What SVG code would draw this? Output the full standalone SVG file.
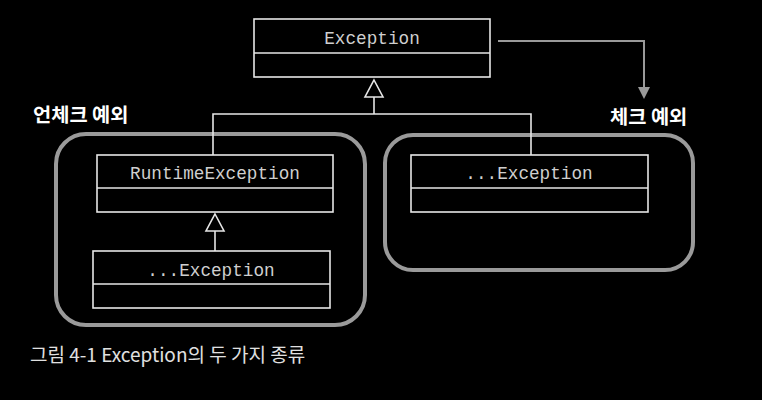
<svg xmlns="http://www.w3.org/2000/svg" width="762" height="400" viewBox="0 0 762 400">
<defs>
<style>
.box{fill:none;stroke:#e6e6e6;stroke-width:1.6}
.grp{fill:none;stroke:#9a9a9a;stroke-width:4}
.cls{font-family:"Liberation Mono","Courier New",monospace;font-size:17.7px;fill:#cfcfcf;text-anchor:middle}
.lbl{font-family:"Noto Sans CJK KR",sans-serif;font-size:19.8px;font-weight:bold;fill:#ffffff}
.cap{font-family:"Noto Sans CJK KR",sans-serif;font-size:19px;fill:#e0e0e0}
.ln{fill:none;stroke:#e6e6e6;stroke-width:1.6}
.tri{fill:#000;stroke:#e6e6e6;stroke-width:1.6}
</style>
</defs>
<rect width="762" height="400" fill="#000"/>
<g id="group-unchecked">
<rect class="grp" x="56" y="134" width="309" height="191" rx="30"/>
<text class="lbl" x="33" y="122">언체크 예외</text>
</g>
<g id="group-checked">
<rect class="grp" x="385" y="135" width="308" height="135" rx="28"/>
<text class="lbl" x="610" y="124">체크 예외</text>
</g>
<g id="exception">
<rect class="box" x="254" y="19" width="236" height="58"/>
<line class="box" x1="254" y1="53" x2="490" y2="53"/>
<text class="cls" x="372" y="44">Exception</text>
</g>
<g id="runtime-exception">
<rect class="box" x="97" y="155" width="236" height="57"/>
<line class="box" x1="97" y1="188" x2="333" y2="188"/>
<text class="cls" x="215" y="179">RuntimeException</text>
</g>
<g id="unchecked-sub">
<rect class="box" x="93" y="251" width="237" height="57"/>
<line class="box" x1="93" y1="284" x2="330" y2="284"/>
<text class="cls" x="211" y="276">...Exception</text>
</g>
<g id="checked-sub">
<rect class="box" x="411" y="155" width="237" height="57"/>
<line class="box" x1="411" y1="188" x2="648" y2="188"/>
<text class="cls" x="529" y="179">...Exception</text>
</g>
<g id="connectors">
<polyline class="ln" points="213,155 213,114 531,114 531,155"/>
<line class="ln" x1="374" y1="114" x2="374" y2="97"/>
<polygon class="tri" points="374,80 383,97 365,97"/>
<line class="ln" x1="215" y1="251" x2="215" y2="231"/>
<polygon class="tri" points="215,214 224,231 206,231"/>
<polyline points="498,41 644,41 644,88" fill="none" stroke="#9a9a9a" stroke-width="2"/>
<polygon points="638,87 650,87 644,99" fill="#9a9a9a"/>
</g>
<text class="cap" x="30" y="362">그림 4-1 Exception의 두 가지 종류</text>
</svg>
